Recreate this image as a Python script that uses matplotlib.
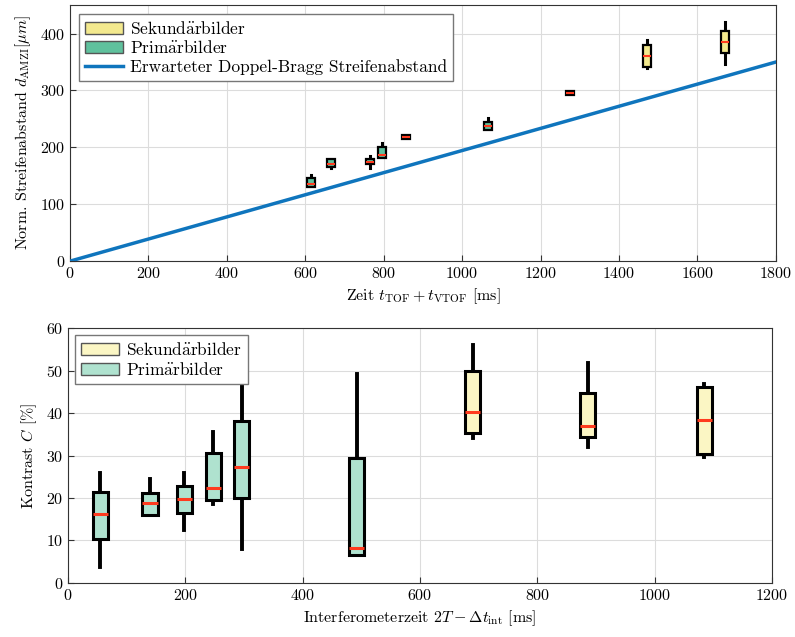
import matplotlib
matplotlib.use("Agg")
import matplotlib.pyplot as plt
from matplotlib.patches import Patch
from matplotlib.lines import Line2D

plt.rcParams['font.family'] = ['cmr10', 'DejaVu Serif']
plt.rcParams['mathtext.fontset'] = 'cm'
plt.rcParams['axes.formatter.use_mathtext'] = True
plt.rcParams['font.size'] = 11.5

# Streifenabstand vs. Zeit (oben)
t_pos = [615, 666, 765, 795, 857, 1065, 1275, 1472, 1670]
t_kind = ['P', 'P', 'P', 'P', 'P', 'P', 'S', 'S', 'S']
t_med = [136, 171, 175, 186, 218, 237, 296, 361, 386]
t_q1 = [130, 165, 170, 181, 214, 230, 292, 341, 365]
t_q3 = [146, 180, 179, 201, 222, 245, 299, 380, 405]
t_lo = [130, 163, 163, 181, 214, 230, 292, 339, 347]
t_hi = [151, 180, 184, 207, 222, 251, 299, 388, 420]

# Erwarteter Doppel-Bragg Streifenabstand
line_t = [0, 1800]
line_d = [0, 350]

# Kontrast vs. Interferometerzeit (unten)
c_pos = [55, 140, 198, 248, 296, 492, 690, 886, 1085]
c_kind = ['P', 'P', 'P', 'P', 'P', 'P', 'S', 'S', 'S']
c_med = [16.2, 18.8, 19.8, 22.4, 27.3, 8.2, 40.2, 36.9, 38.4]
c_q1 = [10.4, 16.0, 16.5, 19.5, 20.0, 6.6, 35.3, 34.4, 30.4]
c_q3 = [21.4, 21.2, 22.8, 30.6, 38.1, 29.4, 49.9, 44.7, 46.1]
c_lo = [3.8, 16.0, 12.5, 18.6, 8.0, 6.6, 34.1, 32.0, 29.6]
c_hi = [25.9, 24.5, 25.9, 35.5, 47.1, 49.2, 56.0, 51.8, 46.8]

# umlaut via mathtext so the glyph comes from the same CM font
SEK = r'Sekund$\ddot{\mathrm{a}}$rbilder'
PRI = r'Prim$\ddot{\mathrm{a}}$rbilder'

fig = plt.figure(figsize=(7.95, 6.37), dpi=100)
ax1 = fig.add_axes([0.088, 0.590, 0.888, 0.402])
ax2 = fig.add_axes([0.0855, 0.0848, 0.8855, 0.4002])


def draw_boxes(ax, pos, kind, med, q1, q3, lo, hi, width, colors, lw, mlw):
    stats = []
    for m, a, b, l, h in zip(med, q1, q3, lo, hi):
        stats.append(dict(med=m, q1=a, q3=b, whislo=l, whishi=h, fliers=[]))
    bp = ax.bxp(stats, positions=pos, widths=width, patch_artist=True,
                showcaps=False, manage_ticks=False,
                boxprops=dict(linewidth=lw, edgecolor='black'),
                whiskerprops=dict(linewidth=lw + 0.6, color='black'),
                medianprops=dict(linewidth=mlw, color='#ff3b1f'))
    for patch, k in zip(bp['boxes'], kind):
        patch.set_facecolor(colors[k])
        patch.set_zorder(3)
    for w in bp['whiskers']:
        w.set_zorder(2.5)
    for m in bp['medians']:
        m.set_zorder(4)


top_colors = {'S': '#f3e98e', 'P': '#5fc19d'}
bot_colors = {'S': '#fbf6c4', 'P': '#afe2cf'}

draw_boxes(ax1, t_pos, t_kind, t_med, t_q1, t_q3, t_lo, t_hi, 20, top_colors, 1.6, 1.5)
ax1.plot(line_t, line_d, color='#0f75bd', lw=2.5, zorder=5)

draw_boxes(ax2, c_pos, c_kind, c_med, c_q1, c_q3, c_lo, c_hi, 26, bot_colors, 2.2, 2.2)

for ax in (ax1, ax2):
    ax.grid(True, color='#dcdcdc', lw=0.8)
    ax.set_axisbelow(True)
    for s in ax.spines.values():
        s.set_color('#333333')
        s.set_linewidth(0.8)
    ax.tick_params(direction='in', length=4, color='#333333', labelsize=11.5)

ax1.set_xlim(0, 1800)
ax1.set_ylim(0, 450)
ax1.set_xticks(range(0, 1801, 200))
ax1.set_yticks(range(0, 401, 100))
ax1.set_xlabel(r'Zeit $t_{\mathrm{TOF}}+t_{\mathrm{VTOF}}$ [ms]', labelpad=4)
ax1.set_ylabel(r'Norm. Streifenabstand $d_{\mathrm{AMZI}}[\mu m]$', labelpad=5)

ax2.set_xlim(0, 1200)
ax2.set_ylim(0, 60)
ax2.set_xticks(range(0, 1201, 200))
ax2.set_yticks(range(0, 61, 10))
ax2.set_xlabel(r'Interferometerzeit $2T-\Delta t_{\mathrm{int}}$ [ms]', labelpad=4)
ax2.set_ylabel(r'Kontrast $C$ [%]', labelpad=5)

h1 = [Patch(facecolor=top_colors['S'], edgecolor='#555555'),
      Patch(facecolor=top_colors['P'], edgecolor='#555555'),
      Line2D([], [], color='#0f75bd', lw=2.5)]
ax1.legend(h1, [SEK, PRI, 'Erwarteter Doppel-Bragg Streifenabstand'],
           loc='upper left', fontsize=12.5, fancybox=False, framealpha=1,
           edgecolor='#777777', handlelength=2.2, handletextpad=0.4,
           labelspacing=0.15, borderpad=0.35, borderaxespad=0.5)

h2 = [Patch(facecolor=bot_colors['S'], edgecolor='#555555'),
      Patch(facecolor=bot_colors['P'], edgecolor='#555555')]
ax2.legend(h2, [SEK, PRI],
           loc='upper left', fontsize=12.5, fancybox=False, framealpha=1,
           edgecolor='#777777', handlelength=2.2, handletextpad=0.4,
           labelspacing=0.15, borderpad=0.35, borderaxespad=0.4)

fig.savefig('out.png', dpi=100, facecolor='white')
